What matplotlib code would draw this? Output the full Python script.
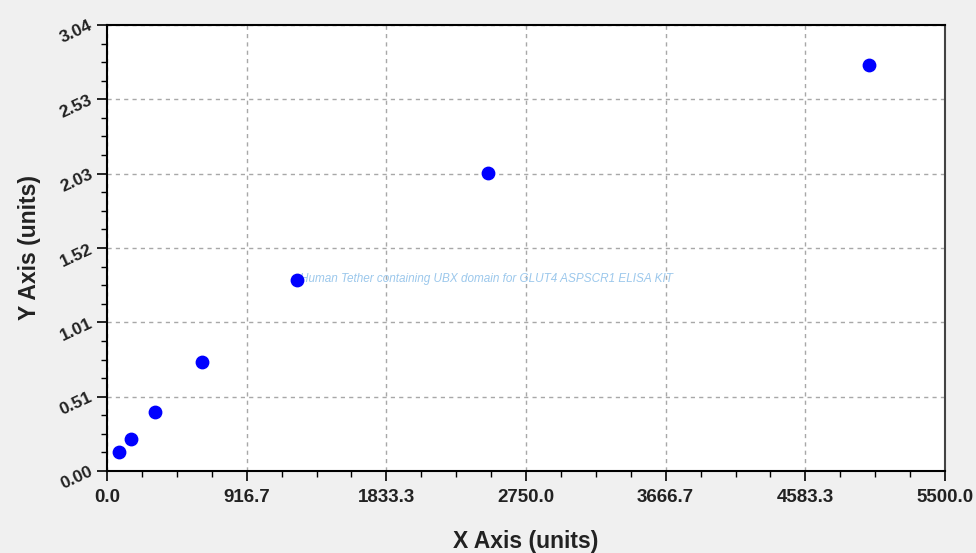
import numpy as np
import matplotlib.pyplot as plt
from matplotlib.ticker import AutoMinorLocator, FixedLocator

# Standard curve data
conc = [78.125, 156.25, 312.5, 625, 1250, 2500, 5000]
od = [0.13, 0.216, 0.40, 0.745, 1.305, 2.03, 2.767]

x_ticks = [0.0, 916.7, 1833.3, 2750.0, 3666.7, 4583.3, 5500.0]
y_ticks = [0.00, 0.51, 1.01, 1.52, 2.03, 2.53, 3.04]

kit_name = "Human Tether containing UBX domain for GLUT4 ASPSCR1 ELISA KIT"

plt.rcParams['font.family'] = ['Liberation Sans', 'DejaVu Sans']

fig = plt.figure(figsize=(9.76, 5.53), dpi=100, facecolor='#f0f0f0')
ax = fig.add_axes([107 / 976, 1 - 471 / 553, (945 - 107) / 976, (471 - 25) / 553])
ax.set_facecolor('white')

ax.scatter(conc, od, s=80, color='#0000ff', zorder=3)

ax.set_xlim(0, 5500)
ax.set_ylim(0, 3.04)

# major ticks at sixths of each range, labels as printed
xt = np.linspace(0, 5500, 7)
yt = np.linspace(0, 3.04, 7)
ax.xaxis.set_major_locator(FixedLocator(xt))
ax.yaxis.set_major_locator(FixedLocator(yt))
ax.set_xticklabels([f"{v:.1f}" for v in x_ticks], fontsize=13.5, fontweight='bold',
                   color='#222222')
ax.set_yticklabels([f"{v:.2f}" for v in y_ticks], fontsize=12.5, fontweight='bold',
                   color='#222222', rotation=25, ha='right', va='center',
                   rotation_mode='anchor')
ax.xaxis.set_minor_locator(AutoMinorLocator(4))
ax.yaxis.set_minor_locator(AutoMinorLocator(4))

ax.tick_params(which='major', direction='out', length=7, width=1.2, color='black', pad=6)
ax.tick_params(axis='y', which='major', pad=4)
ax.tick_params(which='minor', direction='out', length=4, width=1, color='black')
ax.tick_params(top=False, right=False, which='both')

ax.grid(True, which='major', linestyle=(0, (3, 3)), color='#a8a8a8', linewidth=1)
ax.set_axisbelow(True)

for side in ['left', 'bottom', 'top']:
    ax.spines[side].set_linewidth(1.5)
    ax.spines[side].set_color('black')
ax.spines['right'].set_linewidth(1.5)
ax.spines['right'].set_color('#444444')

ax.set_xlabel('X Axis (units)', fontsize=16.5, fontweight='bold', labelpad=17,
              color='#222222')
ax.set_ylabel('Y Axis (units)', fontsize=16.5, fontweight='bold', labelpad=12,
              color='#222222')

ax.text(1265, 1.31, kit_name, fontsize=8.5, style='italic', color='#9cc8ec',
        va='center', ha='left', zorder=2)

fig.savefig('out.png', dpi=100, facecolor=fig.get_facecolor())
